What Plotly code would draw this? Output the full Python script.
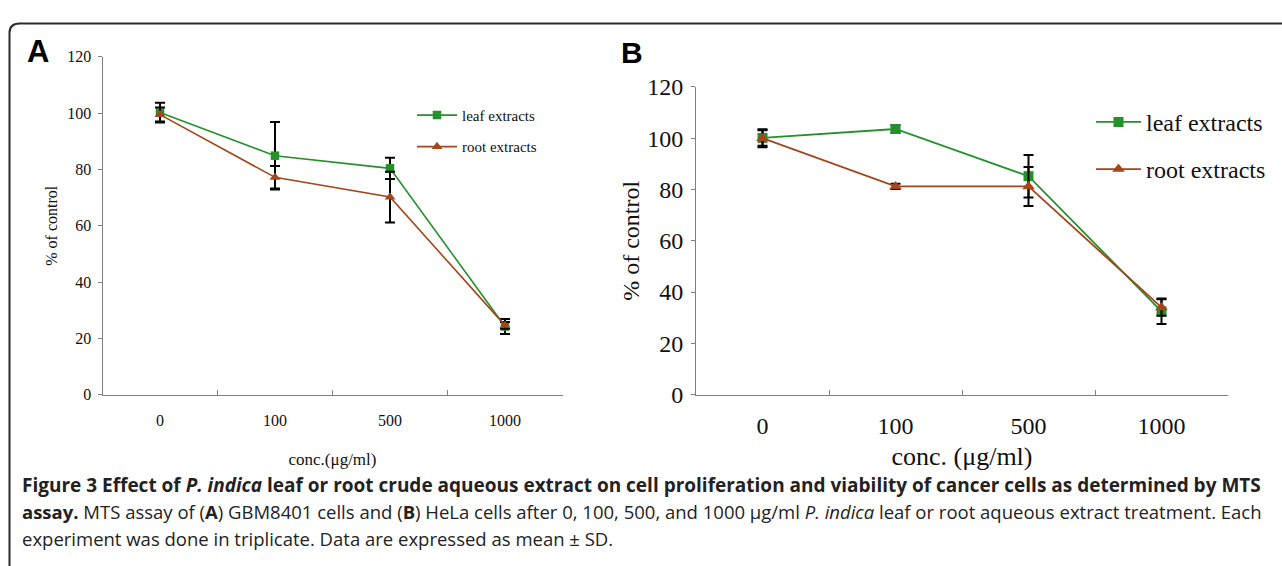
import plotly.graph_objects as go

W, H = 1282, 566

# ---------------- data ----------------
concentrations = ["0", "100", "500", "1000"]

# Panel A (GBM8401)
a_leaf = [100.2, 84.9, 80.4, 24.2]
a_leaf_sd = [3.5, 12.0, 3.8, 2.7]
a_root = [99.5, 77.2, 70.2, 24.6]
a_root_sd = [2.5, 4.0, 9.0, 1.2]

# Panel B (HeLa)
b_leaf = [100.1, 103.6, 85.2, 32.5]
b_leaf_sd = [3.0, 1.5, 8.3, 5.0]
b_root = [100.0, 81.2, 81.2, 34.0]
b_root_sd = [3.5, 1.0, 7.6, 3.2]

series_names = ["leaf extracts", "root extracts"]
y_ticks = [0, 20, 40, 60, 80, 100, 120]

GREEN = "#24912a"
RUST = "#a3461c"
SERIF = "Liberation Serif, Times New Roman, serif"


def px_x(x):
    return x / W


def px_y(y):
    return 1 - y / H


fig = go.Figure()

panels = [
    ("x", "y", "legend", a_leaf, a_leaf_sd, a_root, a_root_sd, 8.5, 9.5, 1.6),
    ("x2", "y2", "legend2", b_leaf, b_leaf_sd, b_root, b_root_sd, 10, 11, 1.8),
]
for xa, ya, lg, leaf, leaf_sd, root, root_sd, ms_sq, ms_tri, lw in panels:
    for name, vals, sd, col, sym, ms, grp in [
        (series_names[0], leaf, leaf_sd, GREEN, "square", ms_sq, "g1"),
        (series_names[1], root, root_sd, RUST, "triangle-up", ms_tri, "g2"),
    ]:
        fig.add_trace(go.Scatter(
            x=concentrations, y=vals, name=name, mode="lines+markers",
            xaxis=xa, yaxis=ya, legend=lg, legendgroup=grp + lg,
            line=dict(color=col, width=lw),
            marker=dict(symbol=sym, size=ms, color=col),
            error_y=dict(type="data", array=sd, visible=True, color="black",
                         thickness=2, width=5),
            cliponaxis=False,
        ))

common_x = dict(
    type="category", range=[-0.5, 3.5], showline=True, linecolor="#808080",
    linewidth=1, ticks="inside", tickson="boundaries", ticklen=5,
    tickcolor="#808080", showgrid=False, zeroline=False,
    categoryorder="array", categoryarray=concentrations,
)
common_y = dict(
    range=[0, 120], tickvals=y_ticks, showline=True, linecolor="#808080",
    linewidth=1, ticks="outside", ticklen=4, tickcolor="#808080",
    showgrid=False, zeroline=False,
)

fig.update_layout(
    width=W, height=H, autosize=False,
    margin=dict(l=0, r=0, t=0, b=0),
    paper_bgcolor="white", plot_bgcolor="white",
    font=dict(family=SERIF, color="#111"),
    xaxis=dict(common_x, domain=[px_x(102.5), px_x(562.5)], anchor="y",
               tickfont=dict(size=16, family=SERIF), ticklabelstandoff=11,
               title=dict(text="conc.(μg/ml)", font=dict(size=17, family=SERIF),
                          standoff=25)),
    yaxis=dict(common_y, domain=[px_y(400), px_y(46)], anchor="x",
               tickfont=dict(size=16, family=SERIF), ticklabelstandoff=3,
               title=dict(text="% of control", font=dict(size=16, family=SERIF),
                          standoff=5)),
    xaxis2=dict(common_x, domain=[px_x(696), px_x(1228)], anchor="y2",
                tickfont=dict(size=24, family=SERIF), ticklabelstandoff=10,
                title=dict(text="conc. (μg/ml)", font=dict(size=26, family=SERIF),
                           standoff=8)),
    yaxis2=dict(common_y, domain=[px_y(400), px_y(77.5)], anchor="x2",
                tickfont=dict(size=24, family=SERIF), ticklabelstandoff=3,
                title=dict(text="% of control", font=dict(size=24, family=SERIF),
                           standoff=0)),
    legend=dict(x=px_x(412), y=px_y(90), xanchor="left", yanchor="top",
                bgcolor="rgba(0,0,0,0)", font=dict(size=15, family=SERIF, color="#111"),
                traceorder="grouped", tracegroupgap=9, itemwidth=40),
    legend2=dict(x=px_x(1091), y=px_y(91), xanchor="left", yanchor="top",
                 bgcolor="rgba(0,0,0,0)", font=dict(size=24, family=SERIF, color="#111"),
                 traceorder="grouped", tracegroupgap=13, itemwidth=45),
    showlegend=True,
)

# Panel letters
fig.add_annotation(text="<b>A</b>", x=px_x(38), y=px_y(40), xref="paper", yref="paper",
                   xanchor="center", yanchor="middle", showarrow=False,
                   font=dict(size=31, family="Liberation Sans, Arial, sans-serif", color="black"))
fig.add_annotation(text="<b>B</b>", x=px_x(632), y=px_y(41), xref="paper", yref="paper",
                   xanchor="center", yanchor="middle", showarrow=False,
                   font=dict(size=30, family="Liberation Sans, Arial, sans-serif", color="black"))

# Caption
CAP = "Open Sans, Noto Sans, sans-serif"
cap_lines = [
    "<b>Figure 3 Effect of <i>P. indica</i> leaf or root crude aqueous extract on cell proliferation and viability of cancer cells as determined by MTS</b>",
    "<b>assay.</b> MTS assay of (<b>A</b>) GBM8401 cells and (<b>B</b>) HeLa cells after 0, 100, 500, and 1000 µg/ml <i>P. indica</i> leaf or root aqueous extract treatment. Each",
    "experiment was done in triplicate. Data are expressed as mean ± SD.",
]
cap_y = [495, 523, 551]
cap_size = [19, 18.5, 18.5]
for t, yy, fs in zip(cap_lines, cap_y, cap_size):
    fig.add_annotation(text=t, x=px_x(20), y=px_y(yy), xref="paper", yref="paper",
                       xanchor="left", yanchor="middle", showarrow=False,
                       font=dict(size=fs, family=CAP, color="#222"))

# Rounded frame (open at right and bottom)
path = (f"M {px_x(9.5)},{px_y(600)} L {px_x(9.5)},{px_y(21)} "
        f"Q {px_x(9.5)},{px_y(11)} {px_x(19.5)},{px_y(11)} L {px_x(1300)},{px_y(11)}")
fig.add_shape(type="path", path=path, xref="paper", yref="paper",
              line=dict(color="#2a2a2a", width=2))

fig.write_html("out.html", config={"displayModeBar": False},
               post_script="document.body.style.margin='0';document.body.style.overflow='hidden';")
